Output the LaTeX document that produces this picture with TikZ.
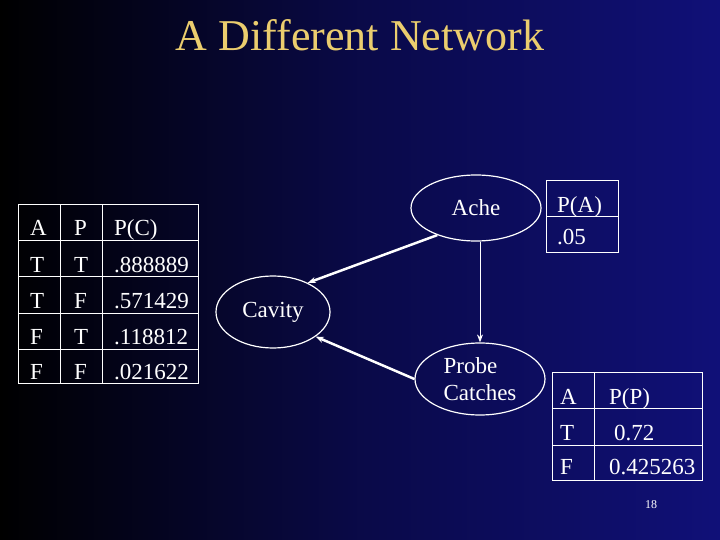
\documentclass[tikz,border=0pt]{standalone}
\usepackage{fontspec}
\setmainfont{Liberation Serif}
\usetikzlibrary{shapes.geometric,arrows.meta}
\definecolor{navy}{RGB}{16,16,120}
\definecolor{titley}{RGB}{235,205,110}
\tikzset{
 t/.style={text=white,font=\fontsize{23}{26}\selectfont,anchor=base west,inner sep=0},
 grid/.style={draw=white,line width=1pt},
 ell/.style={draw=white,line width=1.2pt,ellipse,text=white,inner sep=0},
 arr/.style={draw=white,-{Stealth[length=8pt,width=6pt]}},
}
\begin{document}
\begin{tikzpicture}[x=1pt,y=-1pt]
\shade[left color=black,right color=navy,middle color=navy!60!black] (0,0) rectangle (720,540);
\useasboundingbox (0,0) rectangle (720,540);
\node[text=titley,font=\fontsize{44}{48}\selectfont] (title) at (360,35) {A Different Network};
% left table
\draw[grid] (18,205) rectangle (198,383);
\foreach \y in {240,276,313,349} \draw[grid] (18,\y) -- (198,\y);
\draw[grid] (60,205) -- (60,383);
\draw[grid] (102,205) -- (102,383);
\node[t] (a0) at (30,236) {A}; \node[t] (p0) at (74,236) {P}; \node[t] (c0) at (114,236) {P(C)};
\node[t] (a1) at (30,272) {T}; \node[t] (p1) at (74,272) {T}; \node[t] (c1) at (114,272) {.888889};
\node[t] (a2) at (30,308) {T}; \node[t] (p2) at (74,308) {F}; \node[t] (c2) at (114,308) {.571429};
\node[t] (a3) at (30,344) {F}; \node[t] (p3) at (74,344) {T}; \node[t] (c3) at (114,344) {.118812};
\node[t] (a4) at (30,379) {F}; \node[t] (p4) at (74,379) {F}; \node[t] (c4) at (114,379) {.021622};
% ellipses
\node[ell,minimum width=130,minimum height=66,font=\fontsize{23}{26}\selectfont] (ache) at (476,208) {Ache};
\node[ell,minimum width=114,minimum height=72,font=\fontsize{23}{26}\selectfont] (cav) at (273,312) {Cavity};
\node[ell,minimum width=130,minimum height=72,font=\fontsize{23}{27}\selectfont,align=left] (probe) at (480,379) {Probe\\Catches};
\draw[arr,line width=2.5pt] (ache.215) -- (cav.40);
\draw[arr,line width=1pt] (ache.south -| probe.north) -- (probe.north);
\draw[arr,line width=2.5pt] (probe.west) -- (cav.-30);
% P(A)
\draw[grid] (546,181) rectangle (618,252);
\draw[grid] (546,217) -- (618,217);
\node[t] (pa) at (557,212) {P(A)};
\node[t] (pav) at (557,244) {.05};
% P(P)
\draw[grid] (552,372) rectangle (702,480);
\draw[grid] (552,408) -- (702,408);
\draw[grid] (552,445) -- (702,445);
\draw[grid] (594,372) -- (594,480);
\node[t] (pA) at (560,404) {A}; \node[t] (pP) at (609,404) {P(P)};
\node[t] (pT) at (560,440) {T}; \node[t] (pT2) at (614,440) {0.72};
\node[t] (pF) at (560,474) {F}; \node[t] (pF2) at (609,474) {0.425263};
\node[text=white,font=\fontsize{12}{13}\selectfont] (num) at (651,505) {18};
\end{tikzpicture}
\end{document}
